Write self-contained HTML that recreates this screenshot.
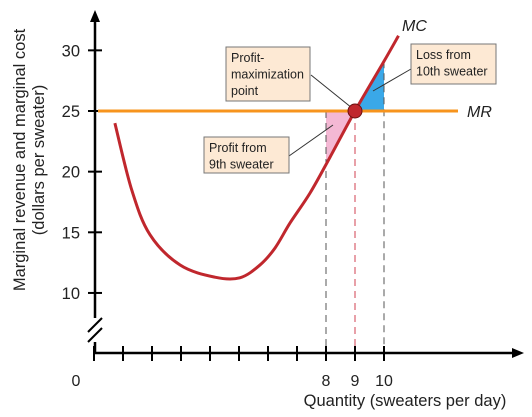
<!DOCTYPE html>
<html><head><meta charset="utf-8"><style>
body{margin:0;background:#fff}
svg{display:block;font-family:"Liberation Sans",sans-serif}
</style></head><body>
<svg id="c" width="532" height="417">
<g id="marks"></g>
</svg>
<script>
const mcQ=[0.72,1.3,1.93,2.97,4.17,5.03,5.72,6.24,6.76,7.45,8.14,9,10,10.5];
const mcV=[24,18.5,14.8,12.3,11.3,11.25,12.3,13.7,15.77,18.24,21.2,25,29.1,31.2];
const mrValue=25;
const yTicks=[10,15,20,25,30];
const xTickCount=[0,1,2,3,4,5,6,7,8,9,10];
const xLabels=[8,9,10];
const X=q=>94+29*q, Y=v=>111+(mrValue-v)*12.13;
const svg=document.getElementById('marks');
const NS='http://www.w3.org/2000/svg';
function el(t,a,txt){const e=document.createElementNS(NS,t);for(const k in a)e.setAttribute(k,a[k]);if(txt!==undefined)e.textContent=txt;svg.appendChild(e);return e;}
const q8=8,q9=9,q10=10;
const vAt=q=>{for(let i=0;i<mcQ.length-1;i++)if(q>=mcQ[i]&&q<=mcQ[i+1]){const t=(q-mcQ[i])/(mcQ[i+1]-mcQ[i]);return mcV[i]+t*(mcV[i+1]-mcV[i]);}return mcV[mcV.length-1];};
let e=el('polygon',{points:`${X(q8)},${Y(mrValue)} ${X(q9)},${Y(mrValue)} ${X(q8)},${Y(vAt(q8))}`,fill:'#f4b8d4'});

e=el('polygon',{points:`${X(q9)},${Y(mrValue)} ${X(q10)},${Y(mrValue)} ${X(q10)},${Y(vAt(q10))}`,fill:'#3aa8e8'});

[[q8,'#555'],[q10,'#555'],[q9,'#d04050']].forEach(([q,c])=>{
 const d=el('line',{x1:X(q),x2:X(q),y1:Y(q==q10?vAt(q10):mrValue),y2:350,stroke:c,'stroke-width':1,'stroke-dasharray':'7,5'});
 
});
e=el('line',{x1:95,y1:18,x2:95,y2:353,stroke:'#000','stroke-width':2.5});

e=el('polygon',{points:'95,10 90,22 100,22',fill:'#000'});

e=el('line',{x1:95,y1:353,x2:516,y2:353,stroke:'#000','stroke-width':2.5});

e=el('polygon',{points:'524,353 512,348 512,358',fill:'#000'});

el('rect',{x:88,y:318,width:14,height:24,fill:'#fff'});
e=el('line',{x1:88,y1:332,x2:102,y2:318,stroke:'#000','stroke-width':2});

el('line',{x1:88,y1:342,x2:102,y2:328,stroke:'#000','stroke-width':2});
yTicks.forEach(v=>{
 let t=el('line',{x1:88,x2:102,y1:Y(v),y2:Y(v),stroke:'#000','stroke-width':2});
 
 t=el('text',{x:80,y:Y(v)+6,'font-size':16.5,'text-anchor':'end',fill:'#222'},v);
 
});
xTickCount.forEach(q=>{
 const t=el('line',{x1:X(q),x2:X(q),y1:346,y2:361,stroke:'#000','stroke-width':2});
 
});
xLabels.forEach(q=>{
 const t=el('text',{x:X(q),y:386,'font-size':16,'text-anchor':'middle',fill:'#222'},q);
 
});
e=el('text',{x:76,y:386,'font-size':16,'text-anchor':'middle',fill:'#222'},'0');

e=el('text',{x:405,y:406,'font-size':16.5,'text-anchor':'middle',fill:'#222'},'Quantity (sweaters per day)');

e=el('text',{transform:'translate(25,160) rotate(-90)','font-size':16.5,'text-anchor':'middle',fill:'#222'},'Marginal revenue and marginal cost');

e=el('text',{transform:'translate(44,160) rotate(-90)','font-size':16.5,'text-anchor':'middle',fill:'#222'},'(dollars per sweater)');

e=el('line',{x1:98,x2:458,y1:Y(mrValue),y2:Y(mrValue),stroke:'#f7941d','stroke-width':3});

e=el('text',{x:467,y:Y(mrValue)+6,'font-size':16,'font-style':'italic',fill:'#222'},'MR');

const P=mcQ.map((q,i)=>[X(q),Y(mcV[i])]);
let d=`M${P[0][0]},${P[0][1]}`;
for(let i=0;i<P.length-1;i++){const p0=P[i-1]||P[i],p1=P[i],p2=P[i+1],p3=P[i+2]||P[i+1];
 d+=` C${p1[0]+(p2[0]-p0[0])/6},${p1[1]+(p2[1]-p0[1])/6} ${p2[0]-(p3[0]-p1[0])/6},${p2[1]-(p3[1]-p1[1])/6} ${p2[0]},${p2[1]}`;}
e=el('path',{d:d,fill:'none',stroke:'#c0272d','stroke-width':3});

e=el('text',{x:402,y:31,'font-size':16,'font-style':'italic',fill:'#222'},'MC');

[[311,75,352,108],[411,69,373,91],[289,156,333,125]].forEach(a=>{
 const l=el('line',{x1:a[0],y1:a[1],x2:a[2],y2:a[3],stroke:'#333','stroke-width':1});
 
});
e=el('circle',{cx:X(q9),cy:Y(mrValue),r:7,fill:'#c0272d',stroke:'#6a1010','stroke-width':1});

[[226,47,84,54,['Profit-','maximization','point'],'profit-max-callout'],[411,44,85,40,['Loss from','10th sweater'],'loss-callout'],[204,137,85,36,['Profit from','9th sweater'],'profit-callout']].forEach(b=>{
 const r=el('rect',{x:b[0],y:b[1],width:b[2],height:b[3],fill:'#fde9d4',stroke:'#777','stroke-width':1});
 
 b[4].forEach((s,i)=>{const t=el('text',{x:b[0]+5,y:b[1]+15+i*16.5,'font-size':12.5,fill:'#222'},s);
  });
});
</script>
</body></html>
